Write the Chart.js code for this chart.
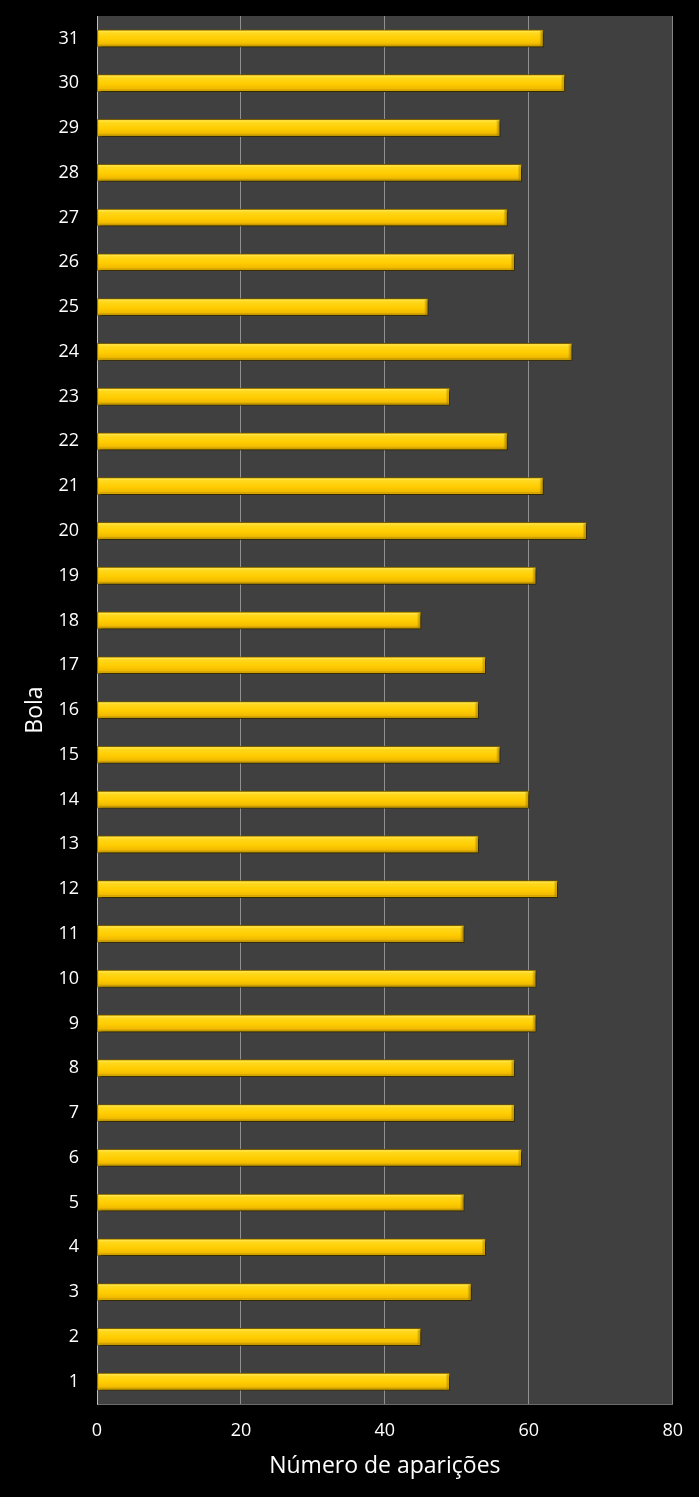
<!DOCTYPE html>
<html>
<head>
<meta charset="utf-8">
<script src="https://cdn.jsdelivr.net/npm/chart.js@4"></script>
<style>
  html, body { margin: 0; padding: 0; background: #000; }
  #wrap { width: 699px; height: 1497px; }
</style>
</head>
<body>
<div id="wrap"><canvas id="chart"></canvas></div>
<script>
// Bola 1..31 (bottom to top) and how many times each came out
const bolas = ['1','2','3','4','5','6','7','8','9','10','11','12','13','14','15','16',
  '17','18','19','20','21','22','23','24','25','26','27','28','29','30','31'];
const aparicoes = [49, 45, 52, 54, 51, 59, 58, 58, 61, 61, 51, 64, 53, 60, 56, 53,
  54, 45, 61, 68, 62, 57, 49, 66, 46, 58, 57, 59, 56, 65, 62];
const xTicks = [0, 20, 40, 60, 80];

const FONT = "'Open Sans', 'DejaVu Sans', sans-serif";

// dark grey plot area behind the bars
const plotBg = {
  id: 'plotBg',
  beforeDraw(chart) {
    const { ctx, chartArea: a } = chart;
    ctx.save();
    ctx.fillStyle = '#404040';
    ctx.fillRect(a.left, a.top, a.right - a.left, a.bottom - a.top);
    ctx.restore();
  }
};

// soft drop shadow under bars, then a glossy bevel on top of them
const bevel = {
  id: 'bevel',
  beforeDatasetDraw(chart) {
    const ctx = chart.ctx;
    ctx.save();
    ctx.shadowColor = 'rgba(0,0,0,0.7)';
    ctx.shadowBlur = 3;
    ctx.shadowOffsetX = 2;
    ctx.shadowOffsetY = 2;
  },
  afterDatasetDraw(chart) {
    chart.ctx.restore();
  },
  afterDatasetsDraw(chart) {
    const ctx = chart.ctx;
    const meta = chart.getDatasetMeta(0);
    meta.data.forEach(bar => {
      const p = bar.getProps(['x', 'y', 'base', 'height'], true);
      const top = p.y - p.height / 2;
      const left = Math.min(p.base, p.x);
      const w = Math.abs(p.x - p.base);
      const g = ctx.createLinearGradient(0, top, 0, top + p.height);
      g.addColorStop(0, '#fff07a');
      g.addColorStop(0.18, '#ffd81c');
      g.addColorStop(0.55, '#ffcc00');
      g.addColorStop(0.82, '#f2bb00');
      g.addColorStop(1, '#9c7a00');
      ctx.save();
      ctx.fillStyle = g;
      ctx.fillRect(left + 1, top + 1, w - 2, p.height - 2);
      // right end darker edge
      const ge = ctx.createLinearGradient(p.x - 4, 0, p.x, 0);
      ge.addColorStop(0, 'rgba(140,105,0,0)');
      ge.addColorStop(1, 'rgba(140,105,0,0.8)');
      ctx.fillStyle = ge;
      ctx.fillRect(p.x - 4, top + 1, 3, p.height - 2);
      ctx.restore();
    });
  }
};

new Chart(document.getElementById('chart'), {
  type: 'bar',
  data: {
    labels: bolas,
    datasets: [{
      data: aparicoes,
      backgroundColor: '#ffcc00',
      borderColor: '#7a6000',
      borderWidth: 1,
      borderSkipped: false,
      barThickness: 17
    }]
  },
  options: {
    indexAxis: 'y',
    responsive: true,
    maintainAspectRatio: false,
    animation: false,
    layout: { padding: { left: 0, right: 26, top: 16, bottom: 0 } },
    plugins: {
      legend: { display: false },
      tooltip: { enabled: false }
    },
    scales: {
      x: {
        min: 0,
        max: 80,
        afterBuildTicks(scale) {
          scale.ticks = xTicks.map(v => ({ value: v }));
        },
        afterFit(scale) { scale.height = 93; },
        grid: {
          color: 'rgba(255,255,255,0.42)',
          lineWidth: 1,
          drawTicks: false
        },
        border: { display: true, color: 'rgba(255,255,255,0.42)' },
        ticks: {
          color: '#ffffff',
          padding: 16,
          font: { family: FONT, size: 18 }
        },
        title: {
          display: true,
          text: 'Número de aparições',
          color: '#ffffff',
          font: { family: FONT, size: 23 },
          padding: { top: 4, bottom: 17 }
        }
      },
      y: {
        reverse: true,
        afterFit(scale) {
          scale.width = 97;
          scale.paddingTop = 0;
          scale.paddingBottom = 0;
        },
        grid: { display: false, drawTicks: false },
        border: { display: true, color: 'rgba(255,255,255,0.42)' },
        ticks: {
          color: '#ffffff',
          padding: 18,
          font: { family: FONT, size: 18 }
        },
        title: {
          display: true,
          text: 'Bola',
          color: '#ffffff',
          font: { family: FONT, size: 23 },
          padding: { top: 22, bottom: 22 }
        }
      }
    }
  },
  plugins: [plotBg, bevel]
});
</script>
</body>
</html>
